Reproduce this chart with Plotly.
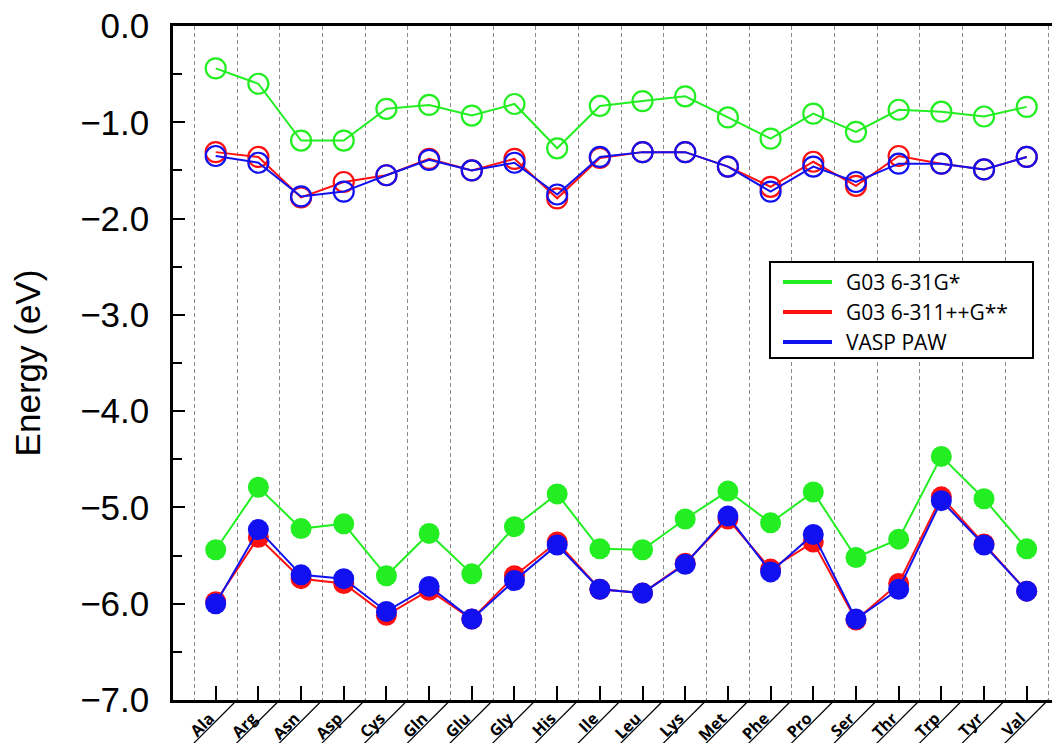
import plotly.graph_objects as go

amino_acids = ["Ala", "Arg", "Asn", "Asp", "Cys", "Gln", "Glu", "Gly", "His", "Ile",
               "Leu", "Lys", "Met", "Phe", "Pro", "Ser", "Thr", "Trp", "Tyr", "Val"]

# LUMO (open circles)
lumo_g03_631 = [-0.44, -0.60, -1.19, -1.19, -0.86, -0.82, -0.93, -0.81, -1.27, -0.83,
                -0.78, -0.73, -0.95, -1.17, -0.91, -1.10, -0.87, -0.89, -0.94, -0.84]
lumo_g03_6311 = [-1.31, -1.36, -1.78, -1.62, -1.55, -1.38, -1.50, -1.38, -1.79, -1.37,
                 -1.31, -1.31, -1.46, -1.67, -1.41, -1.66, -1.35, -1.43, -1.49, -1.36]
lumo_vasp = [-1.35, -1.42, -1.77, -1.72, -1.55, -1.39, -1.50, -1.42, -1.75, -1.36,
             -1.31, -1.31, -1.46, -1.72, -1.46, -1.62, -1.43, -1.43, -1.49, -1.36]

# HOMO (filled circles)
homo_g03_631 = [-5.44, -4.79, -5.22, -5.17, -5.71, -5.27, -5.69, -5.20, -4.86, -5.43,
                -5.44, -5.12, -4.83, -5.16, -4.84, -5.52, -5.33, -4.47, -4.91, -5.43]
homo_g03_6311 = [-5.98, -5.31, -5.74, -5.79, -6.12, -5.86, -6.16, -5.71, -5.36, -5.85,
                 -5.89, -5.58, -5.12, -5.64, -5.36, -6.17, -5.79, -4.89, -5.38, -5.87]
homo_vasp = [-6.00, -5.23, -5.70, -5.74, -6.08, -5.82, -6.16, -5.76, -5.39, -5.85,
             -5.89, -5.59, -5.09, -5.67, -5.28, -6.16, -5.85, -4.93, -5.39, -5.87]

series_names = ["G03 6-31G*", "G03 6-311++G**", "VASP PAW"]
colors = ["#22ee22", "#ff1010", "#1010f0"]

x_idx = list(range(len(amino_acids)))
XMIN, XMAX = -1.0, 19.78

# figure geometry (page body adds an 8px offset)
FIG_W, FIG_H = 1052, 735
M_L, M_T, M_B = 165, 18, 43
plot_w = FIG_W - M_L
plot_h = FIG_H - M_T - M_B


def px(xf):
    return (xf - M_L) / plot_w


def py(yf):
    return (FIG_H - M_B - yf) / plot_h


fig = go.Figure()
lumo = [lumo_g03_631, lumo_g03_6311, lumo_vasp]
homo = [homo_g03_631, homo_g03_6311, homo_vasp]
for name, col, lv, hv in zip(series_names, colors, lumo, homo):
    fig.add_trace(go.Scatter(
        x=x_idx, y=lv, mode="lines+markers", showlegend=False, name=name,
        line=dict(color=col, width=2),
        marker=dict(symbol="circle-open", size=20, color=col, line=dict(width=2.2, color=col)),
    ))
    fig.add_trace(go.Scatter(
        x=x_idx, y=hv, mode="lines+markers", showlegend=False, name=name,
        line=dict(color=col, width=2),
        marker=dict(symbol="circle", size=21, color=col, line=dict(width=0)),
    ))

shapes = []
annotations = []
# diagonal separators under the category axis
for i in range(len(amino_acids)):
    xp = (i + 0.5 - XMIN) / (XMAX - XMIN)
    shapes.append(dict(type="line", xref="paper", yref="paper",
                       x0=xp, y0=0, x1=xp - 45 / plot_w, y1=-45 / plot_h,
                       line=dict(color="black", width=1.2)))

# legend box drawn manually
LX0, LX1, LY0, LY1 = 762, 1025, 254, 350
shapes.append(dict(type="rect", xref="paper", yref="paper",
                   x0=px(LX0), x1=px(LX1), y0=py(LY1), y1=py(LY0),
                   line=dict(color="black", width=2), fillcolor="white", layer="above"))
for k, (name, col) in enumerate(zip(series_names, colors)):
    yc = 274 + 30 * k
    shapes.append(dict(type="line", xref="paper", yref="paper",
                       x0=px(775), x1=px(824), y0=py(yc), y1=py(yc),
                       line=dict(color=col, width=4), layer="above"))
    annotations.append(dict(text=name, xref="paper", yref="paper", x=px(836), y=py(yc),
                            xanchor="left", yanchor="middle", showarrow=False,
                            font=dict(family="Open Sans", size=21, color="black")))

fig.update_layout(
    width=FIG_W, height=FIG_H,
    margin=dict(l=M_L, r=0, t=M_T, b=M_B, autoexpand=False),
    paper_bgcolor="white", plot_bgcolor="white",
    shapes=shapes, annotations=annotations,
    showlegend=False,
    xaxis=dict(
        range=[XMIN, XMAX], tickmode="array", tickvals=x_idx, ticktext=amino_acids,
        tickangle=-45, ticks="inside", ticklen=14, tickwidth=2, tickcolor="black",
        tickfont=dict(family="Open Sans", size=16, color="black", weight="bold"),
        ticklabelstandoff=0, ticklabelshift=-6, ticklabeloverflow="allow",
        automargin=False,
        showline=True, linecolor="black", linewidth=2.5, mirror=True,
        showgrid=False, zeroline=False,
        minor=dict(tickmode="array", tickvals=[i + 0.5 for i in range(-1, 20)],
                   showgrid=True, griddash="4px,3px", gridcolor="#8a8a8a", gridwidth=1,
                   ticks=""),
    ),
    yaxis=dict(
        range=[-7.0, 0.0], dtick=1.0, tickformat=".1f",
        ticks="inside", ticklen=12, tickwidth=2, tickcolor="black",
        tickfont=dict(family="Liberation Sans", size=35, color="black"),
        ticklabelstandoff=14, ticklabeloverflow="allow",
        automargin=False,
        showline=True, linecolor="black", linewidth=2.5,
        showgrid=False, zeroline=False,
        minor=dict(dtick=0.5, ticks="inside", ticklen=9, tickwidth=2, tickcolor="black"),
        title=dict(text="Energy (eV)", font=dict(family="Liberation Sans", size=35, color="black"),
                   standoff=30),
    ),
)

fig.write_html("out.html")
